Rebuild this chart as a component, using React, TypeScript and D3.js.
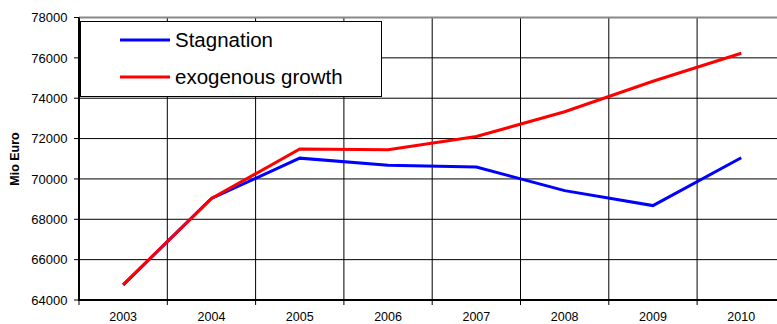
import React from "react";
import * as d3 from "d3";

// Years on the category axis
const years = ["2003", "2004", "2005", "2006", "2007", "2008", "2009", "2010"];
// Value series (Mio Euro)
const stagnation = [64750, 69030, 71030, 70680, 70590, 69420, 68680, 71050];
const exogenousGrowth = [64750, 69030, 71480, 71450, 72100, 73330, 74840, 76230];
// Value axis ticks
const yTicks = [64000, 66000, 68000, 70000, 72000, 74000, 76000, 78000];

const seriesList = [
  { name: "Stagnation", values: stagnation, color: "#0000ff" },
  { name: "exogenous growth", values: exogenousGrowth, color: "#ff0000" },
];

const W = 777;
const H = 324;
const plotLeft = 79;
const plotTop = 17.5;
const plotBottom = 300;
const bandW = 88.3;
const plotRight = plotLeft + bandW * years.length;

const font = "Arial, 'Liberation Sans', Helvetica, sans-serif";

export default function App() {
  const x = d3.scaleBand<string>().domain(years).range([plotLeft, plotRight]);
  const y = d3.scaleLinear().domain([64000, 78000]).range([plotBottom, plotTop]);

  const line = d3
    .line<number>()
    .x((_, i) => (x(years[i]) as number) + x.bandwidth() / 2)
    .y((v) => y(v));

  const boundaries = d3.range(years.length + 1).map((i) => plotLeft + i * x.bandwidth());

  return (
    <svg
      width={W}
      height={H}
      style={{ position: "absolute", left: 0, top: 0, background: "#fff" }}
      fontFamily={font}
    >
      <rect x={0} y={0} width={W} height={H} fill="#fff" />
      {/* horizontal gridlines */}
      {yTicks.slice(1, -1).map((t) => (
        <line key={"h" + t} x1={plotLeft} x2={plotRight} y1={y(t)} y2={y(t)} stroke="#000" strokeWidth={1} />
      ))}
      {/* vertical gridlines between categories */}
      {boundaries.slice(1).map((b, i) => (
        <line key={"v" + i} x1={b} x2={b} y1={plotTop} y2={plotBottom} stroke="#000" strokeWidth={1} />
      ))}
      {/* top frame */}
      <line x1={plotLeft} x2={plotRight} y1={plotTop} y2={plotTop} stroke="#888" strokeWidth={2} />

      {/* value axis */}
      <line x1={plotLeft} x2={plotLeft} y1={plotTop} y2={plotBottom + 1} stroke="#000" strokeWidth={2} />
      {yTicks.map((t) => (
        <g key={"yt" + t}>
          <line x1={plotLeft - 5} x2={plotLeft} y1={y(t)} y2={y(t)} stroke="#000" strokeWidth={1} />
          <text x={67.5} y={y(t) + 4.7} textAnchor="end" fontSize={13} fill="#000">
            {t}
          </text>
        </g>
      ))}
      <text
        transform={`translate(18.5,159) rotate(-90)`}
        textAnchor="middle"
        fontSize={12.5}
        fontWeight="bold"
        fill="#000"
      >
        Mio Euro
      </text>

      {/* category axis */}
      <line x1={plotLeft - 1} x2={plotRight} y1={plotBottom} y2={plotBottom} stroke="#000" strokeWidth={2} />
      {boundaries.map((b, i) => (
        <line key={"xt" + i} x1={b} x2={b} y1={plotBottom} y2={plotBottom + 5} stroke="#000" strokeWidth={1} />
      ))}
      {years.map((yr) => (
        <text
          key={"xl" + yr}
          x={(x(yr) as number) + x.bandwidth() / 2}
          y={321}
          textAnchor="middle"
          fontSize={12.5}
          fill="#000"
        >
          {yr}
        </text>
      ))}

      {/* series */}
      {seriesList.map((s) => (
        <path
          key={s.name}
          d={line(s.values) as string}
          fill="none"
          stroke={s.color}
          strokeWidth={3}
          strokeLinejoin="miter"
        />
      ))}

      {/* legend */}
      <rect x={80.5} y={21.5} width={301} height={75} fill="#fff" stroke="#000" strokeWidth={1} />
      {seriesList.map((s, i) => {
        const ly = 40 + i * 37;
        return (
          <g key={"lg" + s.name}>
            <line x1={120} x2={170} y1={ly} y2={ly} stroke={s.color} strokeWidth={3} />
            <text x={175} y={ly + 6.7} fontSize={20.5} fill="#000">
              {s.name}
            </text>
          </g>
        );
      })}
    </svg>
  );
}
